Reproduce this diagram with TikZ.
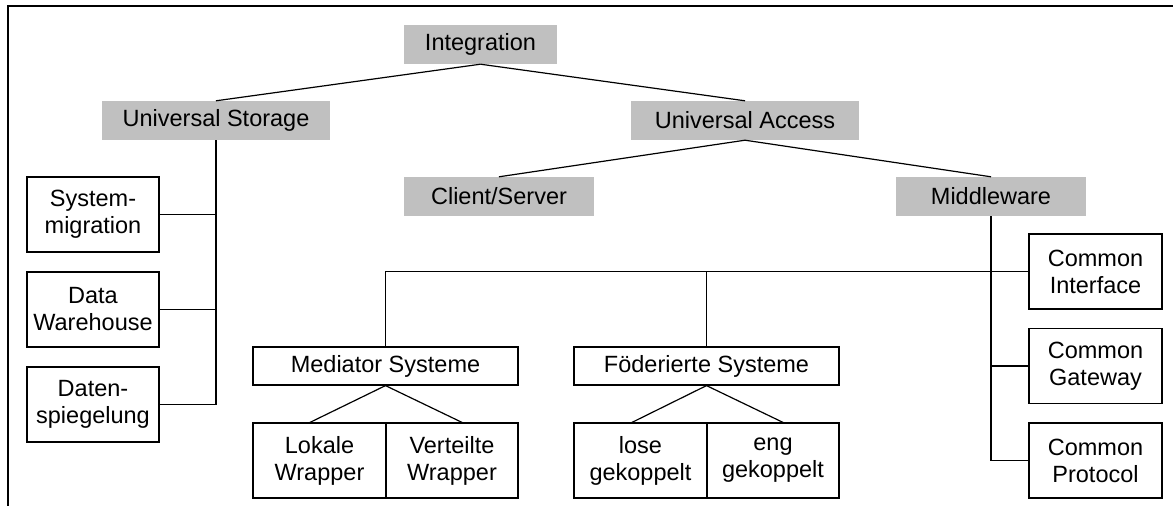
\documentclass[tikz,border=0pt]{standalone}
\usepackage{fontspec}
\setmainfont{Liberation Sans}
\definecolor{boxgray}{RGB}{192,192,192}
\begin{document}
\begin{tikzpicture}[x=1pt,y=-1pt,
  every node/.style={font=\fontsize{23.5}{27}\selectfont, align=center, inner sep=0pt},
  graybox/.style={fill=boxgray, minimum height=39pt},
  whitebox/.style={draw, line width=1.2pt, fill=white},
  tallbox/.style={whitebox, minimum width=132pt, minimum height=75pt},
  widebox/.style={whitebox, minimum width=265pt, minimum height=38pt},
  conn/.style={line width=1.2pt}]
\useasboundingbox (0,0) rectangle (1173,506);
\draw[line width=1.5pt] (1173,6) -- (8,6) -- (8,506);

\node[graybox, minimum width=153pt] (int) at (480.5,44.5) {Integration};
\node[graybox, minimum width=228pt] (us) at (216,120.5) {Universal Storage};
\node[graybox, minimum width=228pt] (ua) at (745,120.5) {Universal Access};
\node[graybox, minimum width=190pt] (cs) at (499,196.5) {Client/Server};
\node[graybox, minimum width=190pt] (mw) at (991,196.5) {Middleware};

\node[tallbox] (sm) at (93,214.5) {System-\\migration};
\node[tallbox] (dw) at (93,309.5) {Data\\Warehouse};
\node[tallbox] (ds) at (93,404.5) {Daten-\\spiegelung};

\node[tallbox, minimum width=133pt] (ci) at (1095.5,271.5) {Common\\Interface};
\node[tallbox, minimum width=133pt] (cg) at (1095.5,366) {Common\\Gateway};
\node[tallbox, minimum width=133pt] (cp) at (1095.5,460.5) {Common\\Protocol};

\node[widebox] (med) at (385.5,366) {Mediator Systeme};
\node[widebox] (fod) at (706.5,366) {Föderierte Systeme};

\node[tallbox, minimum width=133pt] (lw) at (319.5,460.5) {Lokale\\Wrapper};
\node[tallbox] (vw) at (452,460.5) {Verteilte\\Wrapper};
\node[tallbox, minimum width=133pt] (lg) at (640.5,460.5) {lose\\gekoppelt};
\node[tallbox] (eg) at (773,460.5) {eng\\gekoppelt};

\draw[conn] (int.south) -- (us.north);
\draw[conn] (int.south) -- (ua.north);
\draw[conn] (ua.south) -- (cs.north);
\draw[conn] (ua.south) -- (mw.north);

\draw[conn] (us.south) -- (us.south |- ds.east) -- (ds.east);
\draw[conn] (sm.east) -- (sm.east -| us.south);
\draw[conn] (dw.east) -- (dw.east -| us.south);

\draw[conn] (mw.south) -- (mw.south |- cp.west) -- (cp.west);
\draw[conn] (cg.west) -- (cg.west -| mw.south);
\draw[conn] (ci.west) -- (ci.west -| med.north) -- (med.north);
\draw[conn] (fod.north) -- (fod.north |- ci.west);

\draw[conn] ([xshift=-9.5pt]lw.north) -- (med.south) -- ([xshift=10pt]vw.north);
\draw[conn] ([xshift=-8.5pt]lg.north) -- (fod.south) -- ([xshift=10pt]eg.north);
\end{tikzpicture}
\end{document}
